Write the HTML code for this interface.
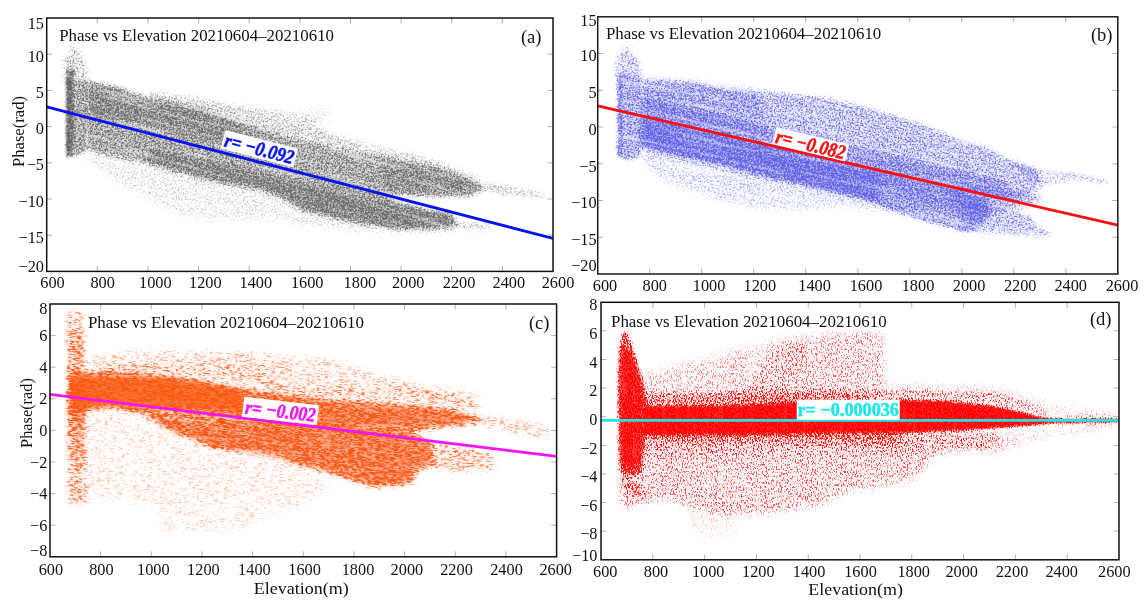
<!DOCTYPE html>
<html><head><meta charset="utf-8"><style>
html,body{margin:0;padding:0;background:#fff;overflow:hidden}
svg{display:block}
text{font-family:"Liberation Serif",serif;fill:#111}
</style></head><body>
<svg width="1146" height="611" viewBox="0 0 1146 611">
<defs><clipPath id="clipa"><rect x="46.7" y="18" width="506.3" height="253.4"/></clipPath>
<clipPath id="clipb"><rect x="597.7" y="16.8" width="520.1" height="257.2"/></clipPath>
<clipPath id="clipc"><rect x="50" y="304" width="506.6" height="252.8"/></clipPath>
<clipPath id="clipd"><rect x="601" y="302.3" width="518" height="257.5"/></clipPath>
<filter id="spa" x="-5%" y="-8%" width="110%" height="116%" color-interpolation-filters="sRGB"><feTurbulence type="fractalNoise" baseFrequency="0.012 0.2" numOctaves="2" seed="7" result="t2"/><feColorMatrix in="t2" type="matrix" values="0 0 0 0 0 0 0 0 0 0 0 0 0 0 0 2.4 0 0 0 -0.1" result="t2a"/><feComposite in="SourceAlpha" in2="t2a" operator="arithmetic" k1="1" k2="0" k3="0" k4="0" result="dm"/><feTurbulence type="fractalNoise" baseFrequency="0.7" numOctaves="2" seed="2" result="n"/><feColorMatrix in="n" type="matrix" values="0 0 0 0 0 0 0 0 0 0 0 0 0 0 0 3.4 0 0 0 -1.2" result="na"/><feComposite in="na" in2="dm" operator="arithmetic" k1="0" k2="2.0" k3="2.0" k4="-2.0" result="m"/><feComposite in="SourceAlpha" in2="SourceAlpha" operator="arithmetic" k1="1" k2="0" k3="0" k4="0" result="sa2"/><feComposite in="m" in2="sa2" operator="arithmetic" k1="0" k2="1" k3="0.5" k4="0" result="m2"/><feFlood flood-color="#6e6e6e"/><feComposite in2="m2" operator="in"/><feGaussianBlur stdDeviation="0.6"/></filter>
<filter id="b3" x="-30%" y="-30%" width="160%" height="160%"><feGaussianBlur stdDeviation="3"/></filter>
<filter id="b2_5" x="-30%" y="-30%" width="160%" height="160%"><feGaussianBlur stdDeviation="2.5"/></filter>
<filter id="b1_5" x="-30%" y="-30%" width="160%" height="160%"><feGaussianBlur stdDeviation="1.5"/></filter>
<filter id="b2" x="-30%" y="-30%" width="160%" height="160%"><feGaussianBlur stdDeviation="2"/></filter>
<filter id="b1_2" x="-30%" y="-30%" width="160%" height="160%"><feGaussianBlur stdDeviation="1.2"/></filter>
<filter id="b1" x="-30%" y="-30%" width="160%" height="160%"><feGaussianBlur stdDeviation="1"/></filter>
<filter id="spb" x="-5%" y="-8%" width="110%" height="116%" color-interpolation-filters="sRGB"><feTurbulence type="fractalNoise" baseFrequency="0.012 0.2" numOctaves="2" seed="11" result="t2"/><feColorMatrix in="t2" type="matrix" values="0 0 0 0 0 0 0 0 0 0 0 0 0 0 0 2.4 0 0 0 -0.1" result="t2a"/><feComposite in="SourceAlpha" in2="t2a" operator="arithmetic" k1="1" k2="0" k3="0" k4="0" result="dm"/><feTurbulence type="fractalNoise" baseFrequency="0.7" numOctaves="2" seed="5" result="n"/><feColorMatrix in="n" type="matrix" values="0 0 0 0 0 0 0 0 0 0 0 0 0 0 0 3.4 0 0 0 -1.2" result="na"/><feComposite in="na" in2="dm" operator="arithmetic" k1="0" k2="2.0" k3="2.0" k4="-2.0" result="m"/><feComposite in="SourceAlpha" in2="SourceAlpha" operator="arithmetic" k1="1" k2="0" k3="0" k4="0" result="sa2"/><feComposite in="m" in2="sa2" operator="arithmetic" k1="0" k2="1" k3="0.5" k4="0" result="m2"/><feFlood flood-color="#6464e6"/><feComposite in2="m2" operator="in"/><feGaussianBlur stdDeviation="0.7"/></filter>
<filter id="b4" x="-30%" y="-30%" width="160%" height="160%"><feGaussianBlur stdDeviation="4"/></filter>
<filter id="spc" x="-5%" y="-8%" width="110%" height="116%" color-interpolation-filters="sRGB"><feTurbulence type="fractalNoise" baseFrequency="0.02 0.4" numOctaves="2" seed="13" result="t2"/><feColorMatrix in="t2" type="matrix" values="0 0 0 0 0 0 0 0 0 0 0 0 0 0 0 2.0 0 0 0 0.0" result="t2a"/><feComposite in="SourceAlpha" in2="t2a" operator="arithmetic" k1="1" k2="0" k3="0" k4="0" result="dm"/><feTurbulence type="fractalNoise" baseFrequency="0.22 1.3" numOctaves="2" seed="8" result="n"/><feColorMatrix in="n" type="matrix" values="0 0 0 0 0 0 0 0 0 0 0 0 0 0 0 3.4 0 0 0 -1.2" result="na"/><feComposite in="na" in2="dm" operator="arithmetic" k1="0" k2="2.0" k3="2.0" k4="-2.0" result="m"/><feComposite in="SourceAlpha" in2="SourceAlpha" operator="arithmetic" k1="1" k2="0" k3="0" k4="0" result="sa2"/><feComposite in="m" in2="sa2" operator="arithmetic" k1="0" k2="1" k3="0.45" k4="0" result="m2"/><feFlood flood-color="#f85a18"/><feComposite in2="m2" operator="in"/><feGaussianBlur stdDeviation="0.5"/></filter>
<filter id="b2_2" x="-30%" y="-30%" width="160%" height="160%"><feGaussianBlur stdDeviation="2.2"/></filter>
<filter id="spd" x="-5%" y="-8%" width="110%" height="116%" color-interpolation-filters="sRGB"><feTurbulence type="fractalNoise" baseFrequency="0.3 0.03" numOctaves="2" seed="17" result="t2"/><feColorMatrix in="t2" type="matrix" values="0 0 0 0 0 0 0 0 0 0 0 0 0 0 0 2.4 0 0 0 -0.1" result="t2a"/><feComposite in="SourceAlpha" in2="t2a" operator="arithmetic" k1="1" k2="0" k3="0" k4="0" result="dm"/><feTurbulence type="fractalNoise" baseFrequency="0.8 0.45" numOctaves="2" seed="21" result="n"/><feColorMatrix in="n" type="matrix" values="0 0 0 0 0 0 0 0 0 0 0 0 0 0 0 3.4 0 0 0 -1.2" result="na"/><feComposite in="na" in2="dm" operator="arithmetic" k1="0" k2="2.0" k3="2.0" k4="-2.0" result="m"/><feComposite in="SourceAlpha" in2="SourceAlpha" operator="arithmetic" k1="1" k2="0" k3="0" k4="0" result="sa2"/><feComposite in="m" in2="sa2" operator="arithmetic" k1="0" k2="1" k3="0.3" k4="0" result="m2"/><feFlood flood-color="#ff1414"/><feComposite in2="m2" operator="in"/><feGaussianBlur stdDeviation="0.65"/></filter></defs>
<rect width="1146" height="611" fill="#fff"/>
<g clip-path="url(#clipa)"><g transform="rotate(14 300 150)" filter="url(#spa)"><g transform="rotate(-14 300 150)">
<path d="M87 148 115 155 150 162 185 171 220 180 255 187 280 194 305 209 350 219 400 227 452 226 490 224 490 230 400 233 350 231 305 227 280 220 237 220 202 219 176 214 150 200 124 186 97 167 87 160Z" fill="#000" fill-opacity="0.2" filter="url(#b3)"/>
<path d="M62 82 64 60 70 48 74 44 79 50 86 62 89 82Z" fill="#000" fill-opacity="0.38" filter="url(#b2_5)"/>
<path d="M150 90 200 98 230 104 270 110 310 116 330 133 359 141 389 149 410 153 440 162 479 178 479 186 410 161 359 151 310 146 270 133 230 125 200 110 150 97Z" fill="#000" fill-opacity="0.34" filter="url(#b2_5)"/>
<path d="M300 108 330 106 335 120 310 124Z" fill="#000" fill-opacity="0.12" filter="url(#b3)"/>
<path d="M440 168 479 180 520 188 546 193 546 199 500 195 479 191 460 185Z" fill="#000" fill-opacity="0.28" filter="url(#b1_5)"/>
<path d="M452 221 490 223 490 228 452 228Z" fill="#000" fill-opacity="0.25" filter="url(#b1_5)"/>
<path d="M86.5 81 104 84 119 87 134 93 148 97 163 100 178 103 193 106 207 110 220 115 236 121 252 126 278 134 305 142 330 147 357 151 380 155 400 159 434 166 460 175 479 184 485 190 472 197 434 197 400 196 385 197 400 203 434 211 452 214 456 222 452 228 400 229 350 221 305 211 280 196 255 189 220 182 185 173 150 164 115 157.5 87 150Z" fill="#000" fill-opacity="0.66" filter="url(#b2)"/>
<path d="M150 148 200 160 250 172 300 184 350 194 400 204 452 214 456 222 452 228 400 229 350 221 305 211 280 196 255 189 220 182 185 173 150 164Z" fill="#000" fill-opacity="0.6" filter="url(#b3)"/>
<path d="M87 84 104 86 134 95 163 102 200 112 240 126 240 146 200 136 150 126 87 118Z" fill="#000" fill-opacity="0.45" filter="url(#b3)"/>
<path d="M380 160 434 170 470 184 475 192 434 194 385 190Z" fill="#000" fill-opacity="0.35" filter="url(#b2_5)"/>
<path d="M73 81 87 81 87 150 80 156 73 156Z" fill="#000" fill-opacity="0.66" filter="url(#b1_5)"/>
<path d="M66 72 74 68 74 156 66 158Z" fill="#000" fill-opacity="0.9" filter="url(#b1_2)"/>
</g></g></g>
<g clip-path="url(#clipa)">
<path d="M66 78 72 76 72 152 66 154Z" fill="#4a4a4a" fill-opacity="0.35" filter="url(#b1)"/>
</g>
<g clip-path="url(#clipb)"><g transform="rotate(13 850 150)" filter="url(#spb)"><g transform="rotate(-13 850 150)">
<path d="M641 140 686 154 731 163 776 176 822 186 867 195 900 208 900 212 867 210 840 206 799 210 753 208 708 197 663 181 641 160Z" fill="#000" fill-opacity="0.28" filter="url(#b3)"/>
<path d="M614 80 616 60 621 50 626 45 632 50 640 62 642 80Z" fill="#000" fill-opacity="0.42" filter="url(#b2_5)"/>
<path d="M1010 163 1043 170 1072 172 1109 180 1109 185 1072 180 1043 186Z" fill="#000" fill-opacity="0.32" filter="url(#b1_5)"/>
<path d="M960 195 1000 203 1030 215 1040 228 1052 233 1050 238 1000 234 960 232Z" fill="#000" fill-opacity="0.45" filter="url(#b2)"/>
<path d="M641 78.6 689 80.8 734 87.6 779.5 92.2 825 96.7 843 101.3 870 108 900 117 932 127 961 140.5 986 146.6 1010 159 1035 167.5 1042 186 1032 193 1015 199 1000 198 900 175 800 152 700 129 641 116Z" fill="#000" fill-opacity="0.5" filter="url(#b2)"/>
<path d="M641 98 700 111 800 134 900 157 1000 180 1015 199 1000 198 900 175 800 152 700 129 641 116Z" fill="#000" fill-opacity="0.45" filter="url(#b3)"/>
<path d="M641 80 700 84 760 92 760 135 700 124 641 112Z" fill="#000" fill-opacity="0.3" filter="url(#b4)"/>
<path d="M641 116 700 129 800 152 900 175 960 189 985 200 992 212 980 226 965 232 937 225 900 214 867 199 821.5 188 776 179 730.7 165.4 685.4 156.3 640 142.7Z" fill="#000" fill-opacity="0.66" filter="url(#b2)"/>
<path d="M641 116.7 700 130.3 750 141.7 800 153.2 850 164.7 880 171.6 880 202.6 850 195.7 800 184.2 750 172.7 700 161.3 641 147.7Z" fill="#000" fill-opacity="0.8" filter="url(#b3)"/>
<path d="M870 169.3 920 180.7 970 192.2 990 196.8 990 217.8 970 213.2 920 201.7 870 190.3Z" fill="#000" fill-opacity="0.35" filter="url(#b3)"/>
<path d="M940 182 1000 192 1040 192 1042 204 1000 212 960 206Z" fill="#000" fill-opacity="0.45" filter="url(#b2_5)"/>
<path d="M624 76 641 77 641 152 636 160 624 160Z" fill="#000" fill-opacity="0.6" filter="url(#b1_5)"/>
<path d="M617 76 624 74 624 158 617 158Z" fill="#000" fill-opacity="0.78" filter="url(#b1_5)"/>
</g></g></g>
<g clip-path="url(#clipc)"><g transform="rotate(3 300 430)" filter="url(#spc)"><g transform="rotate(-3 300 430)">
<path d="M67 310 84 310 86 505 67 505Z" fill="#000" fill-opacity="0.4" filter="url(#b2)"/>
<path d="M68 330 84 330 86 460 68 460Z" fill="#000" fill-opacity="0.35" filter="url(#b2)"/>
<path d="M68 372 86 372 86 426 68 426Z" fill="#000" fill-opacity="0.6" filter="url(#b2)"/>
<path d="M88 356 150 350 250 352 330 360 370 372 420 384 480 394 480 404 420 395 359 394 300 390 266 388 212 381 158 374 104 372 88 372Z" fill="#000" fill-opacity="0.28" filter="url(#b3)"/>
<path d="M112 362 280 364 280 385 112 372Z" fill="#000" fill-opacity="0.18" filter="url(#b4)"/>
<path d="M75 412 112 409 150 418 180 435 217 450 266 454 300 466 320 475 330 490 300 505 260 520 236 531 158 531 158 505 100 500 75 500Z" fill="#000" fill-opacity="0.17" filter="url(#b4)"/>
<path d="M250 386 330 388 420 390 470 398 483 410 456 410 419 405 375 402 330 399 280 393Z" fill="#000" fill-opacity="0.32" filter="url(#b2_5)"/>
<path d="M432 442 470 448 492 453 494 472 447 471 434 468Z" fill="#000" fill-opacity="0.42" filter="url(#b2_5)"/>
<path d="M483 414 548 425 548 440 483 428Z" fill="#000" fill-opacity="0.28" filter="url(#b2)"/>
<path d="M70 372 112 370 165 375 217 383 243 388 280 393 330 399 375 402 419 405 456 410 471 414 483 418 485 420 478 424 433 429 412 433 432 442 436 466 418 471 412 485 374 488 344 479 300 466 266 453 217 450 180 435 150 418 112 408 81 411 70 412Z" fill="#000" fill-opacity="0.8" filter="url(#b2_2)"/>
</g></g></g>
<g clip-path="url(#clipc)">
<path d="M72 376 165 378 243 390 243 412 165 408 112 406 72 410Z" fill="#f85a14" fill-opacity="0.78" filter="url(#b2_5)"/>
<path d="M243 391 280 396 330 402 375 405 419 408 456 413 470 420 433 425 350 426 243 412Z" fill="#f85a14" fill-opacity="0.4" filter="url(#b2_5)"/>
<path d="M150 420 217 425 310 420 400 432 428 442 430 462 418 467 410 480 374 484 344 474 300 462 217 446 170 430Z" fill="#f85a14" fill-opacity="0.35" filter="url(#b2_5)"/>
</g>
<g clip-path="url(#clipd)" filter="url(#spd)">
<path d="M640 375 670 366 697 360 742 348 742 406 644 408Z" fill="#000" fill-opacity="0.25" filter="url(#b4)"/>
<path d="M742 400 755 375 770 352 787 338 830 333 883 332 886 400 860 404 742 406Z" fill="#000" fill-opacity="0.32" filter="url(#b3)"/>
<path d="M735 350 790 336 760 370 745 400 735 400Z" fill="#000" fill-opacity="0.2" filter="url(#b4)"/>
<path d="M742 399 760 370 787 343 810 340 800 380 770 400Z" fill="#000" fill-opacity="0.12" filter="url(#b4)"/>
<path d="M886 384 920 383 960 385 990 386 1030 395 1060 405 1100 411 1119 414 1119 418 1050 412 1000 400 950 396 900 398 886 400Z" fill="#000" fill-opacity="0.16" filter="url(#b3)"/>
<path d="M644 394 860 390 860 408 644 408Z" fill="#000" fill-opacity="0.55" filter="url(#b3)"/>
<path d="M644 430 900 430 900 442 644 440Z" fill="#000" fill-opacity="0.55" filter="url(#b3)"/>
<path d="M619 432 1000 432 1000 452 950 449 933 459 916 479 882 486 848 493 814 508 763 514 729 516 700 510 661 500 620 510Z" fill="#000" fill-opacity="0.36" filter="url(#b3)"/>
<path d="M644 434 1000 434 1000 450 644 456Z" fill="#000" fill-opacity="0.18" filter="url(#b4)"/>
<path d="M1000 432 1060 428 1100 426 1100 431 1050 436 1000 452Z" fill="#000" fill-opacity="0.2" filter="url(#b3)"/>
<path d="M690 505 735 505 735 536 690 536Z" fill="#000" fill-opacity="0.12" filter="url(#b4)"/>
<path d="M623 332 627 332 632 345 638 365 645 390 647 405 646 435 642 470 632 478 620 472 618 420 618 370 620 345Z" fill="#000" fill-opacity="0.9" filter="url(#b1_5)"/>
<path d="M622 476 635 482 651 493 640 498 622 490Z" fill="#000" fill-opacity="0.4" filter="url(#b2)"/>
<path d="M644 405 745 404 795 401 860 401 899 399 944 400 991 405 1014 410 1038 416 1054 419 1080 419 1119 419 1119 422 1080 422 1054 423 1038 425 991 429 944 432 897 434 850 434 745 436 644 436Z" fill="#000" fill-opacity="0.95" filter="url(#b1_2)"/>
<path d="M860 391 920 390 1000 393 1040 408 1054 417 991 405 944 400 899 399 860 401Z" fill="#000" fill-opacity="0.4" filter="url(#b2_5)"/>
<path d="M1054 416 1113 414 1113 427 1054 424Z" fill="#000" fill-opacity="0.3" filter="url(#b2)"/>
</g>
<g clip-path="url(#clipd)">
<path d="M622 348 630 350 638 372 643 395 644 430 640 462 630 470 621 462 620 400 620 365Z" fill="#ff0000" fill-opacity="0.7" filter="url(#b2)"/>
<path d="M644 407 745 406 795 403 860 403 899 401 944 402 991 407 1014 411 1038 417 1054 419.5 1119 419.5 1119 421.5 1054 422.5 1038 424 991 427.5 944 430 897 432 850 432 745 434 644 434Z" fill="#ff0000" fill-opacity="0.8" filter="url(#b1_2)"/>
</g>
<line x1="46.7" y1="106.8" x2="553" y2="238.4" stroke="#0a10f0" stroke-width="2.8" clip-path="url(#clipa)"/>
<line x1="597.7" y1="105.8" x2="1117.8" y2="225.1" stroke="#f81010" stroke-width="2.8" clip-path="url(#clipb)"/>
<line x1="50" y1="394.3" x2="556.6" y2="456.4" stroke="#f414f4" stroke-width="2.8" clip-path="url(#clipc)"/>
<line x1="601" y1="420.4" x2="1119" y2="420.4" stroke="#1ee6ea" stroke-width="2.8" clip-path="url(#clipd)"/>
<g transform="translate(259.4 148.6) rotate(14.6)"><rect x="-37.5" y="-9.5" width="75" height="19" fill="#fff"/><text x="0" y="6.8" font-size="20" font-weight="bold" font-style="italic" text-anchor="middle" textLength="71" lengthAdjust="spacingAndGlyphs" style="fill:#0a10f0;stroke:#0a10f0;stroke-width:0.5">r= −0.092</text></g>
<g transform="translate(810.7 144.4) rotate(13.5)"><rect x="-37.5" y="-8.8" width="75" height="17.5" fill="#fff"/><text x="0" y="6.8" font-size="20" font-weight="bold" font-style="italic" text-anchor="middle" textLength="71" lengthAdjust="spacingAndGlyphs" style="fill:#f81010;stroke:#f81010;stroke-width:0.5">r= −0.082</text></g>
<g transform="translate(280.5 410.9) rotate(6.4)"><rect x="-37.6" y="-10" width="75.2" height="20" fill="#fff"/><text x="0" y="6.8" font-size="20" font-weight="bold" font-style="italic" text-anchor="middle" textLength="71" lengthAdjust="spacingAndGlyphs" style="fill:#f414f4;stroke:#f414f4;stroke-width:0.5">r= −0.002</text></g>
<g transform="translate(848.2 409.7) rotate(0)"><rect x="-51.5" y="-9.9" width="103" height="19.9" fill="#fff"/><text x="0" y="6.3" font-size="18.5" font-weight="bold" text-anchor="middle" textLength="101.5" lengthAdjust="spacingAndGlyphs" style="fill:#1ee6ea;stroke:#1ee6ea;stroke-width:0.5">r= −0.000036</text></g>
<path d="M97.3 271.4v-5.5M97.3 18v5.5M148 271.4v-5.5M148 18v5.5M198.6 271.4v-5.5M198.6 18v5.5M249.2 271.4v-5.5M249.2 18v5.5M299.9 271.4v-5.5M299.9 18v5.5M350.5 271.4v-5.5M350.5 18v5.5M401.1 271.4v-5.5M401.1 18v5.5M451.7 271.4v-5.5M451.7 18v5.5M502.4 271.4v-5.5M502.4 18v5.5M46.7 235.2h5.5M553 235.2h-5.5M46.7 199h5.5M553 199h-5.5M46.7 162.8h5.5M553 162.8h-5.5M46.7 126.6h5.5M553 126.6h-5.5M46.7 90.4h5.5M553 90.4h-5.5M46.7 54.2h5.5M553 54.2h-5.5" stroke="#b0b0b0" stroke-width="1" fill="none"/>
<rect x="46.7" y="18" width="506.3" height="253.4" fill="none" stroke="#111" stroke-width="1.5"/>
<path d="M649.7 274v-5.5M649.7 16.8v5.5M701.7 274v-5.5M701.7 16.8v5.5M753.7 274v-5.5M753.7 16.8v5.5M805.7 274v-5.5M805.7 16.8v5.5M857.8 274v-5.5M857.8 16.8v5.5M909.8 274v-5.5M909.8 16.8v5.5M961.8 274v-5.5M961.8 16.8v5.5M1013.8 274v-5.5M1013.8 16.8v5.5M1065.8 274v-5.5M1065.8 16.8v5.5M597.7 237.3h5.5M1117.8 237.3h-5.5M597.7 200.5h5.5M1117.8 200.5h-5.5M597.7 163.8h5.5M1117.8 163.8h-5.5M597.7 127h5.5M1117.8 127h-5.5M597.7 90.3h5.5M1117.8 90.3h-5.5M597.7 53.5h5.5M1117.8 53.5h-5.5" stroke="#b0b0b0" stroke-width="1" fill="none"/>
<rect x="597.7" y="16.8" width="520.1" height="257.2" fill="none" stroke="#1a1a1a" stroke-width="1.5"/>
<path d="M100.7 556.8v-5.5M100.7 304v5.5M151.3 556.8v-5.5M151.3 304v5.5M202 556.8v-5.5M202 304v5.5M252.6 556.8v-5.5M252.6 304v5.5M303.3 556.8v-5.5M303.3 304v5.5M354 556.8v-5.5M354 304v5.5M404.6 556.8v-5.5M404.6 304v5.5M455.3 556.8v-5.5M455.3 304v5.5M505.9 556.8v-5.5M505.9 304v5.5M50 525.2h5.5M556.6 525.2h-5.5M50 493.6h5.5M556.6 493.6h-5.5M50 462h5.5M556.6 462h-5.5M50 430.4h5.5M556.6 430.4h-5.5M50 398.8h5.5M556.6 398.8h-5.5M50 367.2h5.5M556.6 367.2h-5.5M50 335.6h5.5M556.6 335.6h-5.5" stroke="#b0b0b0" stroke-width="1" fill="none"/>
<rect x="50" y="304" width="506.6" height="252.8" fill="none" stroke="#111" stroke-width="1.5"/>
<path d="M652.8 559.8v-5.5M652.8 302.3v5.5M704.6 559.8v-5.5M704.6 302.3v5.5M756.4 559.8v-5.5M756.4 302.3v5.5M808.2 559.8v-5.5M808.2 302.3v5.5M860 559.8v-5.5M860 302.3v5.5M911.8 559.8v-5.5M911.8 302.3v5.5M963.6 559.8v-5.5M963.6 302.3v5.5M1015.4 559.8v-5.5M1015.4 302.3v5.5M1067.2 559.8v-5.5M1067.2 302.3v5.5M601 531.2h5.5M1119 531.2h-5.5M601 502.6h5.5M1119 502.6h-5.5M601 474h5.5M1119 474h-5.5M601 445.4h5.5M1119 445.4h-5.5M601 416.7h5.5M1119 416.7h-5.5M601 388.1h5.5M1119 388.1h-5.5M601 359.5h5.5M1119 359.5h-5.5M601 330.9h5.5M1119 330.9h-5.5" stroke="#b0b0b0" stroke-width="1" fill="none"/>
<rect x="601" y="302.3" width="518" height="257.5" fill="none" stroke="#111" stroke-width="1.5"/>
<text x="44" y="271.7" font-size="16.3" text-anchor="end">−20</text>
<text x="44" y="242.8" font-size="16.3" text-anchor="end">−15</text>
<text x="44" y="206.6" font-size="16.3" text-anchor="end">−10</text>
<text x="44" y="170.4" font-size="16.3" text-anchor="end">−5</text>
<text x="44" y="134.2" font-size="16.3" text-anchor="end">0</text>
<text x="44" y="98" font-size="16.3" text-anchor="end">5</text>
<text x="44" y="61.8" font-size="16.3" text-anchor="end">10</text>
<text x="44" y="29" font-size="16.3" text-anchor="end">15</text>
<text x="596.6" y="271.4" font-size="16.3" text-anchor="end">−20</text>
<text x="596.6" y="245.1" font-size="16.3" text-anchor="end">−15</text>
<text x="596.6" y="208.3" font-size="16.3" text-anchor="end">−10</text>
<text x="596.6" y="171.6" font-size="16.3" text-anchor="end">−5</text>
<text x="596.6" y="134.8" font-size="16.3" text-anchor="end">0</text>
<text x="596.6" y="98.1" font-size="16.3" text-anchor="end">5</text>
<text x="596.6" y="61.3" font-size="16.3" text-anchor="end">10</text>
<text x="596.6" y="26.3" font-size="16.3" text-anchor="end">15</text>
<text x="47.3" y="556.3" font-size="16.3" text-anchor="end">−8</text>
<text x="47.3" y="530.8" font-size="16.3" text-anchor="end">−6</text>
<text x="47.3" y="499.2" font-size="16.3" text-anchor="end">−4</text>
<text x="47.3" y="467.6" font-size="16.3" text-anchor="end">−2</text>
<text x="47.3" y="436" font-size="16.3" text-anchor="end">0</text>
<text x="47.3" y="404.4" font-size="16.3" text-anchor="end">2</text>
<text x="47.3" y="372.8" font-size="16.3" text-anchor="end">4</text>
<text x="47.3" y="341.2" font-size="16.3" text-anchor="end">6</text>
<text x="47.3" y="313.6" font-size="16.3" text-anchor="end">8</text>
<text x="597.5" y="560.5" font-size="16.3" text-anchor="end">−10</text>
<text x="597.5" y="539.4" font-size="16.3" text-anchor="end">−8</text>
<text x="597.5" y="510.8" font-size="16.3" text-anchor="end">−6</text>
<text x="597.5" y="482.2" font-size="16.3" text-anchor="end">−4</text>
<text x="597.5" y="453.6" font-size="16.3" text-anchor="end">−2</text>
<text x="597.5" y="424.9" font-size="16.3" text-anchor="end">0</text>
<text x="597.5" y="396.3" font-size="16.3" text-anchor="end">2</text>
<text x="597.5" y="367.7" font-size="16.3" text-anchor="end">4</text>
<text x="597.5" y="339.1" font-size="16.3" text-anchor="end">6</text>
<text x="597.5" y="309.9" font-size="16.3" text-anchor="end">8</text>
<text x="52.5" y="288.4" font-size="16.3" text-anchor="middle">600</text>
<text x="102.6" y="288.4" font-size="16.3" text-anchor="middle">800</text>
<text x="155.3" y="288.4" font-size="16.3" text-anchor="middle">1000</text>
<text x="205.3" y="288.4" font-size="16.3" text-anchor="middle">1200</text>
<text x="255.8" y="288.4" font-size="16.3" text-anchor="middle">1400</text>
<text x="307.2" y="288.4" font-size="16.3" text-anchor="middle">1600</text>
<text x="359.9" y="288.4" font-size="16.3" text-anchor="middle">1800</text>
<text x="408.2" y="288.4" font-size="16.3" text-anchor="middle">2000</text>
<text x="459.1" y="288.4" font-size="16.3" text-anchor="middle">2200</text>
<text x="508.8" y="288.4" font-size="16.3" text-anchor="middle">2400</text>
<text x="558" y="288.4" font-size="16.3" text-anchor="middle">2600</text>
<text x="605" y="290.8" font-size="16.3" text-anchor="middle">600</text>
<text x="654.7" y="290.8" font-size="16.3" text-anchor="middle">800</text>
<text x="709.1" y="290.8" font-size="16.3" text-anchor="middle">1000</text>
<text x="759.8" y="290.8" font-size="16.3" text-anchor="middle">1200</text>
<text x="814.6" y="290.8" font-size="16.3" text-anchor="middle">1400</text>
<text x="866" y="290.8" font-size="16.3" text-anchor="middle">1600</text>
<text x="918" y="290.8" font-size="16.3" text-anchor="middle">1800</text>
<text x="969.1" y="290.8" font-size="16.3" text-anchor="middle">2000</text>
<text x="1020.2" y="290.8" font-size="16.3" text-anchor="middle">2200</text>
<text x="1070.7" y="290.8" font-size="16.3" text-anchor="middle">2400</text>
<text x="1122" y="290.8" font-size="16.3" text-anchor="middle">2600</text>
<text x="50.9" y="575.4" font-size="16.3" text-anchor="middle">600</text>
<text x="101.4" y="575.4" font-size="16.3" text-anchor="middle">800</text>
<text x="153.3" y="575.4" font-size="16.3" text-anchor="middle">1000</text>
<text x="203.4" y="575.4" font-size="16.3" text-anchor="middle">1200</text>
<text x="254.4" y="575.4" font-size="16.3" text-anchor="middle">1400</text>
<text x="304.6" y="575.4" font-size="16.3" text-anchor="middle">1600</text>
<text x="358" y="575.4" font-size="16.3" text-anchor="middle">1800</text>
<text x="406.9" y="575.4" font-size="16.3" text-anchor="middle">2000</text>
<text x="456.5" y="575.4" font-size="16.3" text-anchor="middle">2200</text>
<text x="506.5" y="575.4" font-size="16.3" text-anchor="middle">2400</text>
<text x="555.7" y="575.4" font-size="16.3" text-anchor="middle">2600</text>
<text x="605.3" y="576.8" font-size="16.3" text-anchor="middle">600</text>
<text x="656" y="576.8" font-size="16.3" text-anchor="middle">800</text>
<text x="708.2" y="576.8" font-size="16.3" text-anchor="middle">1000</text>
<text x="758.3" y="576.8" font-size="16.3" text-anchor="middle">1200</text>
<text x="809.1" y="576.8" font-size="16.3" text-anchor="middle">1400</text>
<text x="860.5" y="576.8" font-size="16.3" text-anchor="middle">1600</text>
<text x="913.7" y="576.8" font-size="16.3" text-anchor="middle">1800</text>
<text x="961.7" y="576.8" font-size="16.3" text-anchor="middle">2000</text>
<text x="1012" y="576.8" font-size="16.3" text-anchor="middle">2200</text>
<text x="1061.7" y="576.8" font-size="16.3" text-anchor="middle">2400</text>
<text x="1114.3" y="576.8" font-size="16.3" text-anchor="middle">2600</text>
<text x="59.2" y="40.9" font-size="17" textLength="274.8" lengthAdjust="spacingAndGlyphs">Phase vs Elevation 20210604–20210610</text>
<text x="605.9" y="38.9" font-size="17" textLength="275.4" lengthAdjust="spacingAndGlyphs">Phase vs Elevation 20210604–20210610</text>
<text x="87.9" y="327.8" font-size="17" textLength="276.1" lengthAdjust="spacingAndGlyphs">Phase vs Elevation 20210604–20210610</text>
<text x="611.0" y="326.5" font-size="17" textLength="275.6" lengthAdjust="spacingAndGlyphs">Phase vs Elevation 20210604–20210610</text>
<text x="541.5" y="42.8" font-size="18.5" text-anchor="end">(a)</text>
<text x="1112.5" y="40.9" font-size="18.5" text-anchor="end">(b)</text>
<text x="549.5" y="329.1" font-size="18.5" text-anchor="end">(c)</text>
<text x="1111.5" y="325.4" font-size="18.5" text-anchor="end">(d)</text>
<text transform="translate(24 131.5) rotate(-90)" font-size="16.4" text-anchor="middle" textLength="71" lengthAdjust="spacingAndGlyphs">Phase(rad)</text>
<text transform="translate(32.4 413) rotate(-90)" font-size="16.4" text-anchor="middle" textLength="69.8" lengthAdjust="spacingAndGlyphs">Phase(rad)</text>
<text x="301.3" y="594.3" font-size="17.6" text-anchor="middle" textLength="95" lengthAdjust="spacingAndGlyphs">Elevation(m)</text>
<text x="855.6" y="594.8" font-size="17.6" text-anchor="middle" textLength="94.7" lengthAdjust="spacingAndGlyphs">Elevation(m)</text>
</svg></body></html>
